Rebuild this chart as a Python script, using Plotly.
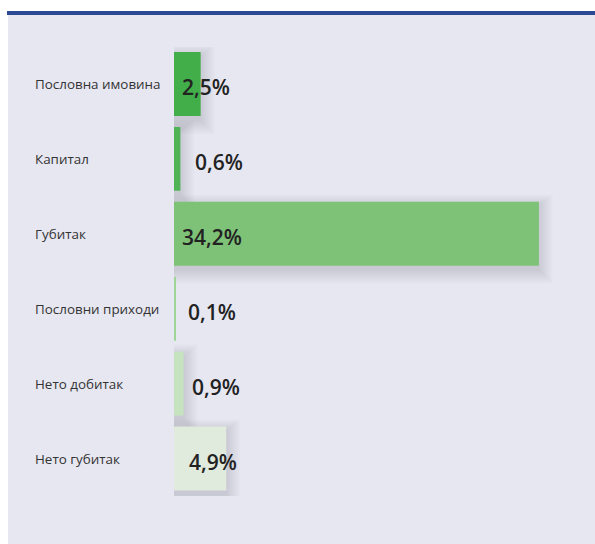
import plotly.graph_objects as go

categories = ["Пословна имовина", "Капитал", "Губитак", "Пословни приходи", "Нето добитак", "Нето губитак"]
values = [2.5, 0.6, 34.2, 0.1, 0.9, 4.9]
value_labels = ["2,5%", "0,6%", "34,2%", "0,1%", "0,9%", "4,9%"]
bar_colors = ["#41ae4a", "#50b456", "#7ec277", "#9ed698", "#c6e3c0", "#e0eadd"]
label_shift = [6, 19, 6, 12, 16, 13]

W, H = 595, 544
x_left_px = 174
px_per_unit = 10.67
x_max = (W - x_left_px) / px_per_unit
row_px = 75
y_top_px, y_bot_px = 46.5, 496

fig = go.Figure()
fig.add_trace(go.Bar(
    y=categories, x=values, orientation="h",
    marker=dict(color=bar_colors, line=dict(width=0)),
    hoverinfo="skip", showlegend=False,
))

shapes = []
shapes.append(dict(type="rect", xref="paper", yref="paper", x0=8 / W, x1=1, y0=0, y1=(H - 14) / H,
                   fillcolor="#e7e7f1", line=dict(width=0), layer="below"))
shapes.append(dict(type="line", xref="paper", yref="paper", x0=7 / W, x1=1, y0=(H - 13) / H, y1=(H - 13) / H,
                   line=dict(color="#2b4a93", width=4), layer="above"))

# soft drop shadow (layered translucent rectangles)
bar_half = 0.5 * (1 - 11 / 75)
for i, v in enumerate(values):
    if v < 0.3:
        continue
    for k in range(1, 31):
        r = k * 0.5
        dx = r / px_per_unit
        dy = r / row_px
        off = 4 / row_px
        shapes.append(dict(type="rect", xref="x", yref="y",
                           x0=0 - dx, x1=v + dx,
                           y0=i - bar_half - dy * 0.8 + off, y1=i + bar_half + dy + off,
                           fillcolor="rgba(0,0,0,0.0045)", line=dict(width=0), layer="below"))

annotations = []
for i, (c, lab) in enumerate(zip(categories, value_labels)):
    annotations.append(dict(xref="paper", yref="y", x=33 / W, y=c, text=c, showarrow=False,
                            xanchor="left", yanchor="middle",
                            font=dict(family="Open Sans, sans-serif", size=13.4, color="#333333")))
    annotations.append(dict(xref="x", yref="y", x=0, y=c, text=lab, showarrow=False,
                            xanchor="left", yanchor="middle", xshift=label_shift[i], yshift=-3,
                            font=dict(family="Open Sans, sans-serif", size=21, color="#222222", weight=600)))

fig.update_layout(
    width=W, height=H,
    margin=dict(l=0, r=0, t=0, b=0),
    paper_bgcolor="white", plot_bgcolor="rgba(0,0,0,0)",
    bargap=11 / 75,
    shapes=shapes, annotations=annotations,
    xaxis=dict(domain=[x_left_px / W, 1], range=[0, x_max], visible=False, fixedrange=True),
    yaxis=dict(domain=[(H - y_bot_px) / H, (H - y_top_px) / H],
               range=[len(categories) - 0.5, -0.5],
               visible=False, fixedrange=True),
)

fig.write_html("out.html", config={"displayModeBar": False},
               post_script="document.body.style.margin='0';document.body.style.overflow='hidden';")
